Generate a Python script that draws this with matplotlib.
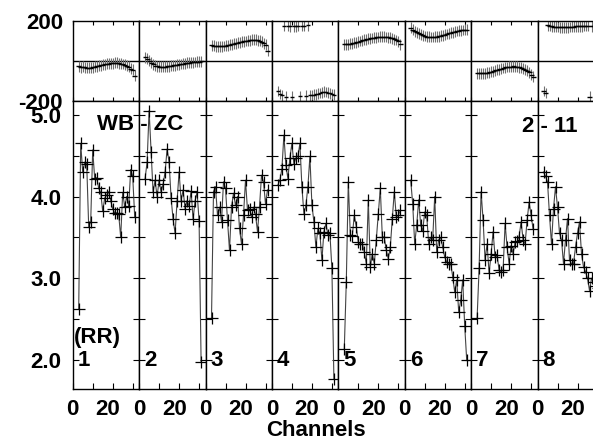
import numpy as np
import matplotlib
matplotlib.use("Agg")
import matplotlib.pyplot as plt

plt.rcParams['font.family'] = ['Liberation Sans', 'DejaVu Sans']
plt.rcParams['font.weight'] = 'bold'

# channels plotted in every panel
chan = np.arange(3, 32)

# amplitude per IF panel (1..8)
amp = [
    [2.62, 4.65, 4.30, 4.42, 4.40, 3.63, 3.69, 4.57, 4.22, 4.23, 4.10, 4.05, 3.82, 3.98, 4.02,
     4.06, 3.95, 3.85, 3.80, 3.80, 3.78, 3.50, 4.05, 3.87, 4.00, 3.88, 4.33, 4.25, 3.75],
    [4.22, 4.42, 5.05, 4.55, 4.05, 4.20, 4.00, 4.20, 4.05, 4.15, 4.30, 4.58, 4.42, 3.98, 3.72,
     3.55, 3.95, 4.30, 3.95, 4.08, 3.85, 3.95, 3.88, 4.07, 3.72, 3.95, 4.05, 3.70, 1.98],
    [2.51, 4.06, 4.12, 3.77, 3.87, 3.69, 4.18, 4.10, 3.71, 3.34, 3.87, 4.04, 3.89, 4.00, 3.61,
     3.42, 3.77, 4.20, 3.83, 3.85, 3.75, 3.87, 3.78, 3.57, 3.87, 4.26, 4.18, 3.91, 4.08],
    [4.14, 4.20, 4.34, 4.75, 4.38, 4.22, 4.47, 4.65, 4.40, 4.47, 4.49, 4.65, 4.12, 3.79, 3.89,
     4.12, 4.49, 3.90, 3.69, 3.38, 3.61, 3.55, 3.22, 3.57, 3.67, 3.53, 3.55, 3.12, 1.77],
    [2.14, 2.96, 4.18, 3.53, 3.52, 3.77, 3.63, 3.44, 3.42, 3.42, 3.32, 3.18, 3.96, 3.14, 3.30,
     3.18, 3.47, 3.79, 4.10, 3.51, 3.50, 3.34, 3.24, 3.38, 3.73, 4.06, 3.75, 3.77, 3.83],
    [4.20, 3.91, 3.42, 3.65, 3.96, 3.65, 3.58, 3.81, 3.77, 3.42, 3.50, 3.47, 4.00, 3.32, 3.47,
     3.50, 3.38, 3.26, 3.20, 3.18, 3.18, 3.02, 2.83, 2.98, 2.59, 2.73, 2.98, 2.42, 2.00],
    [2.51, 3.12, 4.06, 3.71, 3.22, 3.42, 3.06, 3.30, 3.57, 3.26, 3.28, 3.10, 3.08, 3.10, 3.67,
     3.38, 3.18, 3.40, 3.30, 3.44, 3.45, 3.51, 3.69, 3.47, 3.42, 3.71, 3.93, 3.77, 3.60],
    [4.30, 4.25, 4.18, 3.77, 3.42, 3.85, 4.12, 3.87, 3.55, 3.47, 3.18, 3.47, 3.73, 3.22, 3.18,
     3.18, 3.38, 3.55, 3.69, 3.30, 3.14, 3.08, 3.00, 2.85, 3.00, 2.95, 2.90, 2.88, 2.80],
]

# phase (degrees) per panel
phase = [
    [-28, -32, -30, -33, -35, -35, -34, -33, -30, -28, -25, -22, -20, -18, -15,
     -14, -12, -12, -10, -10, -12, -14, -16, -20, -25, -30, -40, -45, -75],
    [17, 10, 0, -10, -18, -24, -28, -30, -30, -30, -29, -28, -27, -25, -23,
     -22, -20, -18, -16, -14, -12, -10, -9, -8, -7, -6, -5, -4, -3],
    [77, 75, 73, 72, 72, 73, 74, 76, 78, 80, 83, 86, 88, 90, 93,
     95, 97, 99, 101, 103, 105, 106, 105, 103, 100, 95, 88, 80, 50],
    [-150, -165, -172, 176, -178, 174, 172, -179, 173, 172, 175, -176, 174, 176, -174,
     178, -172, -170, -168, -166, -164, -160, -156, -154, -155, -158, -162, -165, -168],
    [82, 82, 83, 85, 87, 90, 93, 96, 99, 102, 105, 108, 110, 112, 114,
     116, 118, 119, 120, 121, 120, 119, 117, 115, 112, 108, 104, 98, 82],
    [165, 155, 148, 143, 138, 133, 128, 124, 121, 120, 119, 119, 120, 121, 123,
     125, 128, 131, 134, 137, 140, 143, 146, 149, 151, 153, 154, 155, 155],
    [-62, -62, -63, -63, -62, -60, -58, -55, -52, -48, -45, -42, -39, -36, -33,
     -31, -30, -29, -28, -29, -30, -32, -35, -40, -45, -50, -58, -68, -80],
    [-150, -160, 178, 175, 172, 170, 170, 169, 168, 168, 168, 168, 168, 169, 170,
     171, 172, 172, 173, 173, 174, 174, 174, -178, 173, 173, 172, 172, 172],
]
phase_err = 27

W, H = 593, 443
fig = plt.figure(figsize=(W / 100, H / 100), dpi=100)

x0, pw = 72.7, 66.4          # panel left edge and width (px)
ph_top, ph_bot = 20.7, 101.0
am_bot = 389.3
fs = 16

for i in range(8):
    left = (x0 + i * pw) / W
    axp = fig.add_axes([left, 1 - ph_bot / H, pw / W, (ph_bot - ph_top) / H])
    axa = fig.add_axes([left, 1 - am_bot / H, pw / W, (am_bot - ph_bot) / H])

    # phase
    axp.axhline(0, color='black', lw=1)
    axp.errorbar(chan, phase[i], yerr=phase_err, fmt='none', ecolor='#707070', elinewidth=0.8)
    axp.errorbar(chan, phase[i], xerr=1.2, fmt='none', ecolor='black', elinewidth=1)
    axp.set_xlim(0, 33.2)
    axp.set_ylim(-200, 200)
    axp.set_xticks([0, 10, 20, 30])
    axp.tick_params(axis='x', direction='in', top=True, bottom=True, length=3,
                    labelbottom=False)
    if i == 0:
        axp.set_yticks([-200, 200])
        axp.set_yticklabels(['-200', '200'])
        axp.tick_params(axis='y', length=0, pad=7, labelsize=fs)
    else:
        axp.set_yticks([])

    # amplitude
    axa.plot(chan, amp[i], color='#444444', lw=0.8)
    axa.plot(chan, amp[i], ls='none', marker='+', ms=9, mew=0.9, color='black')
    axa.set_xlim(0, 33.2)
    axa.set_ylim(1.642, 5.168)
    axa.set_yticks(np.arange(2.0, 5.01, 0.5))
    axa.tick_params(axis='y', direction='in', left=True, right=True, length=4.5,
                    labelleft=(i == 0), labelsize=fs, pad=8)
    if i == 0:
        axa.set_yticklabels(['2.0', '', '3.0', '', '4.0', '', '5.0'])
    axa.xaxis.remove_overlapping_locs = False
    axa.set_xticks([0, 10, 20, 30])
    axa.set_xticks([0, 17.6], labels=['0', '20'], minor=True)
    axa.tick_params(axis='x', which='major', direction='in', length=4, labelbottom=False)
    axa.tick_params(axis='x', which='minor', length=0, labelsize=fs, pad=7)
    axa.text(2.6, 2.0, str(i + 1), fontsize=fs, va='center', ha='left')

    for ax in (axp, axa):
        for s in ax.spines.values():
            s.set_linewidth(1)

fig.text(97 / W, 1 - 125 / H, 'WB - ZC', fontsize=fs, va='center', ha='left')
fig.text(522 / W, 1 - 126 / H, '2 - 11', fontsize=fs, va='center', ha='left')
fig.text(74 / W, 1 - 337 / H, '(RR)', fontsize=fs, va='center', ha='left')
fig.text(316 / W, 1 - 431 / H, 'Channels', fontsize=fs, va='center', ha='center')

fig.savefig('out.png', dpi=100)
